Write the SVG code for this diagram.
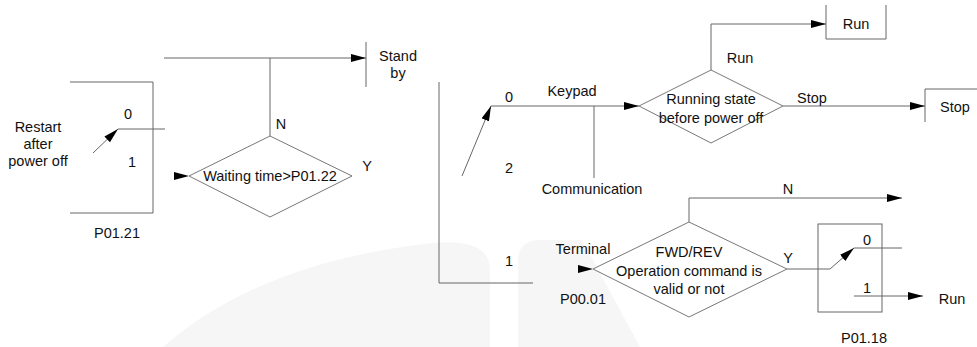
<svg xmlns="http://www.w3.org/2000/svg" width="977" height="347" viewBox="0 0 977 347">
<defs>
<style>
text{font-family:"Liberation Sans",Arial,sans-serif;font-size:14.5px;fill:#111}
.m{text-anchor:middle}
.ln{fill:none;stroke:#666;stroke-width:1}
.dm{fill:#fff;stroke:#777;stroke-width:1}
.ah{fill:#000}
.wm{fill:#f6f6f6}
</style>
<marker id="arr" viewBox="0 0 15 8" refX="15" refY="4" markerWidth="15" markerHeight="8" markerUnits="userSpaceOnUse" orient="auto">
<path d="M0,0 L15,4 L0,8 Z" fill="#000"/>
</marker>
</defs>
<rect width="977" height="347" fill="#fff"/>
<g id="watermark">
<path class="wm" d="M163,347 Q260,262 433,243 Q490,238 490,270 L490,347 Z"/>
<path class="wm" d="M518,347 L518,262 Q518,240 540,240 L582,240 L640,347 Z"/>
</g>
<g id="connectors">
<path class="ln" d="M164,58 H366" marker-end="url(#arr)"/>
<path class="ln" d="M270,58 V136"/>
<path class="ln" d="M366,42 V87"/>
<path class="ln" d="M118,129 H165"/>
<path class="ln" d="M93,153 L118,129" marker-end="url(#arr)"/>
<polygon class="ah" points="174,172 189,176 174,180"/>
<path class="ln" d="M439,82 V283 H533"/>
<path class="ln" d="M462,176 L491,106" marker-end="url(#arr)"/>
<path class="ln" d="M491,106 H639" marker-end="url(#arr)"/>
<path class="ln" d="M594,106 V178"/>
<path class="ln" d="M711,70 V24 H826" marker-end="url(#arr)"/>
<path class="ln" d="M783,106 H925" marker-end="url(#arr)"/>
<polygon class="ah" points="578,265 593,269 578,273"/>
<path class="ln" d="M689,222 V198 H902" marker-end="url(#arr)"/>
<path class="ln" d="M787,269 H830 L854,248" marker-end="url(#arr)"/>
<path class="ln" d="M854,248 H902"/>
<path class="ln" d="M854,296 H923" marker-end="url(#arr)"/>
</g>
<g id="restart">
<text class="m" x="38" y="132">Restart</text>
<text class="m" x="38" y="149">after</text>
<text class="m" x="38" y="166">power off</text>
</g>
<g id="p0121">
<path class="ln" d="M70,82 H153 V213 H70"/>
<text class="m" x="128" y="119">0</text>
<text class="m" x="132" y="167">1</text>
<text class="m" x="117" y="238">P01.21</text>
</g>
<g id="standby">
<text class="m" x="398" y="61">Stand</text>
<text class="m" x="398" y="78">by</text>
</g>
<g id="waiting">
<polygon class="dm" points="189,176 270,136 352,176 270,217"/>
<text class="m" x="270" y="181">Waiting time&gt;P01.22</text>
<text class="m" x="281" y="129">N</text>
<text class="m" x="367" y="171">Y</text>
</g>
<g id="p0001">
<text class="m" x="509" y="102">0</text>
<text class="m" x="572" y="96">Keypad</text>
<text class="m" x="509" y="173">2</text>
<text class="m" x="592" y="194">Communication</text>
<text class="m" x="509" y="266">1</text>
<text class="m" x="583" y="254">Terminal</text>
<text class="m" x="583" y="304">P00.01</text>
</g>
<g id="running">
<polygon class="dm" points="639,106 711,70 783,106 711,143"/>
<text class="m" x="711" y="104">Running state</text>
<text class="m" x="711" y="123">before power off</text>
<text class="m" x="740" y="63">Run</text>
<text class="m" x="812" y="103">Stop</text>
</g>
<g id="run-box">
<path class="ln" d="M826,5 V39 H886 V5"/>
<text class="m" x="856" y="29">Run</text>
</g>
<g id="stop-box">
<path class="ln" d="M925,122 V89 H977"/>
<text class="m" x="955" y="112">Stop</text>
</g>
<g id="fwdrev">
<polygon class="dm" points="593,269 689,222 787,269 689,317"/>
<text class="m" x="689" y="257">FWD/REV</text>
<text class="m" x="689" y="276">Operation command is</text>
<text class="m" x="689" y="294">valid or not</text>
<text class="m" x="788" y="194">N</text>
<text class="m" x="788" y="263">Y</text>
</g>
<g id="p0118">
<rect class="ln" x="818" y="224" width="64" height="88"/>
<text class="m" x="867" y="245">0</text>
<text class="m" x="867" y="293">1</text>
<text class="m" x="864" y="343">P01.18</text>
</g>
<g id="run-out">
<text class="m" x="952" y="304">Run</text>
</g>
</svg>
